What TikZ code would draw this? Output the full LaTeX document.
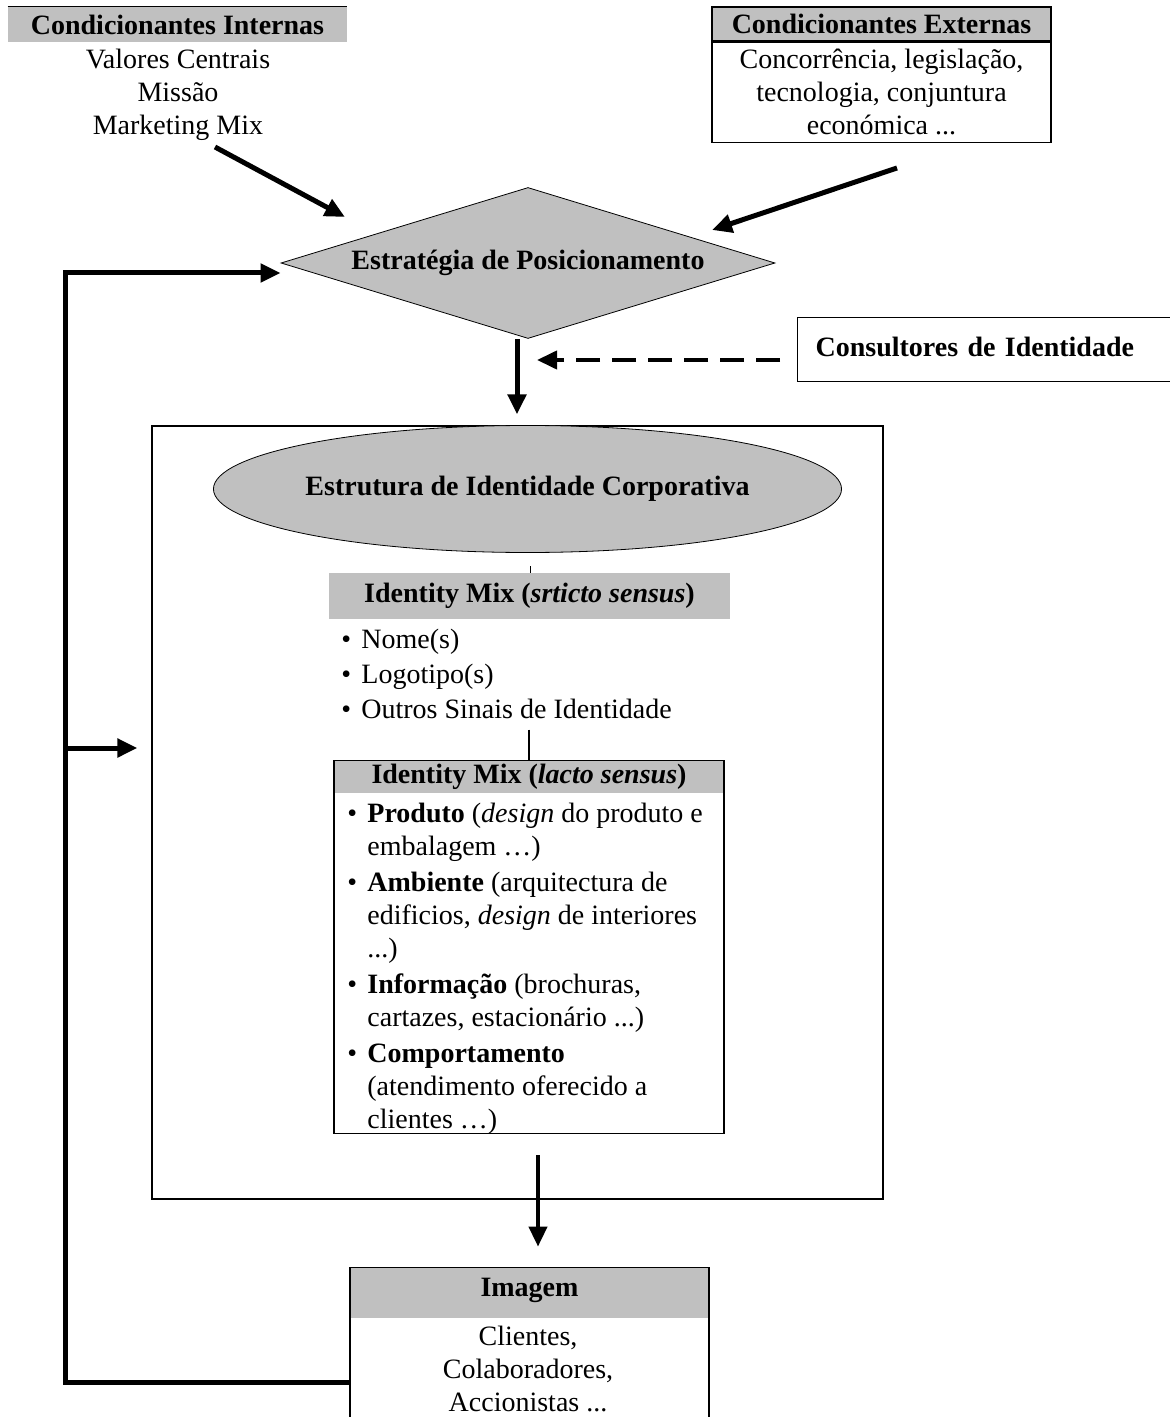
\documentclass[tikz,border=0pt]{standalone}
\usepackage{fontspec}
\setmainfont{Liberation Serif}
\usetikzlibrary{shapes.geometric,arrows.meta}
\definecolor{headgray}{RGB}{192,192,192}
\newcommand{\bul}{\makebox[10pt][l]{\textbullet}}
\newcommand{\ind}{\hspace*{10pt}}
\begin{document}
\begin{tikzpicture}
  [x=0.5pt, y=-0.5pt,
   every node/.style={font=\fontsize{14}{16.5}\selectfont},
   head/.style={rectangle, fill=headgray, inner sep=0pt, font=\fontsize{14}{16.5}\selectfont\bfseries},
   frame/.style={rectangle, draw, line width=0.6pt, inner sep=0pt},
   flow/.style={line width=2.5pt, -{Triangle[length=10pt,width=9pt]}}]
  \useasboundingbox (0,0) rectangle (1169,1417);

  % conditioning factors
  \node[head, minimum width=169.5pt, minimum height=17.5pt] (intHead) at (177.5,24.5) {Condicionantes Internas};
  \draw[line width=0.8pt] (intHead.north west) -- (intHead.north east);
  \node[align=center, inner sep=0pt, anchor=north] (intBody) at (178,49) {Valores Centrais\\Missão\\Marketing Mix};
  \node[head, draw, line width=0.6pt, minimum width=169.5pt, minimum height=17pt] (extHead) at (881.5,24) {Condicionantes Externas};
  \node[frame, align=center, minimum width=169.5pt, minimum height=50pt, anchor=north] (extBody) at (extHead.south) {Concorrência, legislação,\\tecnologia, conjuntura\\económica ...};

  % positioning strategy
  \node[diamond, draw, fill=headgray, aspect=3.27, minimum width=247pt, minimum height=75.5pt, inner sep=0pt, font=\fontsize{14}{16.5}\selectfont\bfseries] (strategy) at (528,263) {\raisebox{2pt}{Estratégia de Posicionamento}};
  \coordinate (intOut) at (215,147);
  \coordinate (intIn) at (345,217);
  \coordinate (extOut) at (897,168);
  \coordinate (extIn) at (712,230);
  \draw[flow] (intOut) -- (intIn);
  \draw[flow] (extOut) -- (extIn);

  % consultants
  \node[frame, minimum width=189pt, minimum height=32pt, text width=171pt, inner xsep=9pt, align=left, anchor=north west, font=\fontsize{14}{16.5}\selectfont\bfseries] (consult) at (797,317) {\raisebox{3pt}{Consultores de Identidade}};
  \coordinate (consultIn) at (537,360);
  \draw[flow, line width=2pt, dash pattern=on 12pt off 6pt, shorten <=8.5pt] (consult.west |- consultIn) -- (consultIn);

  % corporate identity structure
  \node[frame, minimum width=365.5pt, minimum height=386.5pt] (frame) at (517.5,812.5) {};
  \draw[flow, shorten >=5.5pt] (strategy.south -| 517,0) -- (frame.north -| 517,0);
  \node[ellipse, draw, fill=headgray, minimum width=311.5pt, minimum height=63.5pt, inner sep=0pt, font=\fontsize{14}{16.5}\selectfont\bfseries] (struct) at (527.5,489) {Estrutura de Identidade Corporativa};

  \node[head, minimum width=200.5pt, minimum height=23pt] (strictHead) at (529.5,596) {\raisebox{1pt}{Identity Mix (\textit{srticto sensus})}};
  \draw (530,566) -- (strictHead.north -| 530,0);
  \node[anchor=north west, align=left, inner sep=0pt] (strictList) at (341,629)
    {\bul Nome(s)\\[1pt]\bul Logotipo(s)\\[1pt]\bul Outros Sinais de Identidade};

  \node[head, minimum width=195pt, minimum height=16.5pt] (lactoHead) at (529,776.5) {Identity Mix (\textit{lacto sensus})};
  \node[frame, minimum width=195pt, minimum height=186.5pt, anchor=north] (lactoBox) at (lactoHead.north) {};
  \draw[line width=1.2pt, shorten <=5pt] (strictList.south -| 529,0) -- (lactoHead.north -| 529,0);
  \node[anchor=north west, align=left, inner sep=0pt] (lactoList) at (347,803)
    {\bul\textbf{Produto} (\textit{design} do produto e\\
     \ind embalagem \dots)\\[1.5pt]
     \bul\textbf{Ambiente} (arquitectura de\\
     \ind edificios, \textit{design} de interiores\\
     \ind ...)\\[1.5pt]
     \bul\textbf{Informação} (brochuras,\\
     \ind cartazes, estacionário ...)\\[1.5pt]
     \bul\textbf{Comportamento}\\
     \ind (atendimento oferecido a\\
     \ind clientes \dots)};

  % image
  \node[head, minimum width=179.5pt, minimum height=25.5pt] (imgHead) at (529.5,1292.5) {\raisebox{5.5pt}{Imagem}};
  \node[frame, minimum width=179.5pt, minimum height=90pt, anchor=north] (imgBox) at (imgHead.north) {};
  \node[align=center, inner sep=0pt] (imgText) at (528,1369) {Clientes,\\Colaboradores,\\Accionistas ...};
  \coordinate (imgOut) at (538,1155);
  \draw[flow, line width=2pt, shorten >=10pt] (imgOut) -- (imgOut |- imgHead.north);

  % feedback loop
  \draw[flow] (imgBox.west |- 0,1382) -| (65,273) -- (strategy.west |- 0,273);
  \draw[flow, shorten >=7pt] (65,748) -- (frame.west |- 0,748);
\end{tikzpicture}
\end{document}
